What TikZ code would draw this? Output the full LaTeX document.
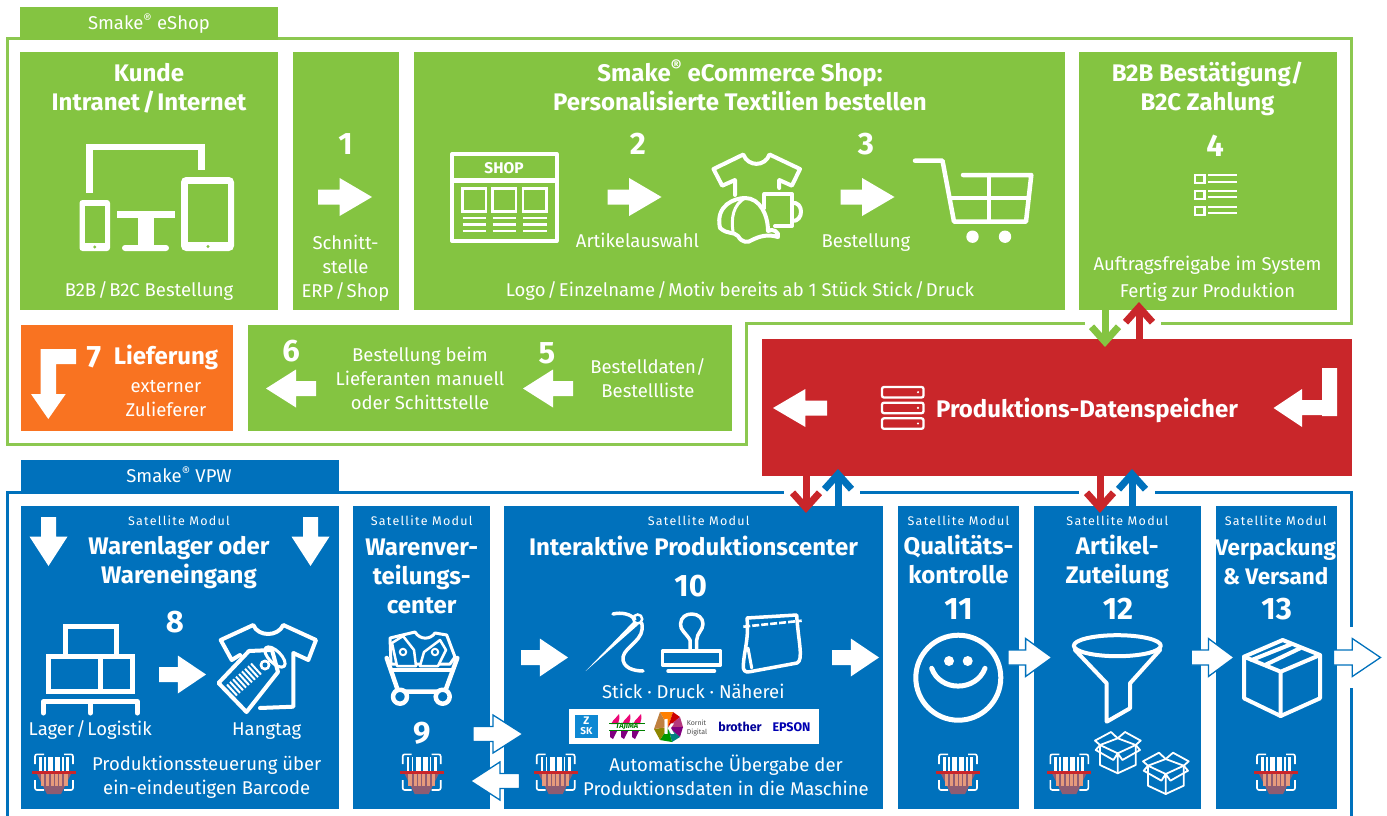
\documentclass[tikz,border=0pt]{standalone}
\usepackage{fontspec}
\setmainfont{Fira Sans}
\newfontfamily\spacedfont[LetterSpace=10]{Fira Sans}
\usetikzlibrary{calc}
\usetikzlibrary{arrows.meta}

\definecolor{shopgreen}{HTML}{84C441}
\definecolor{framegreen}{HTML}{8CC850}
\definecolor{vpwblue}{HTML}{0071BC}
\definecolor{datared}{HTML}{C9262A}
\definecolor{liefer}{HTML}{F97321}
\definecolor{salmon}{HTML}{E69A7C}
\definecolor{mauve}{HTML}{8E5C72}

\newcommand{\slsh}{\kern.1em/\kern.1em}

\tikzset{
  x=1pt, y=-1pt,
  lbl/.style={text=white, inner sep=0pt, anchor=north, align=center, execute at begin node=\strut},
  txt/.style={lbl, yshift=10.3pt, font=\fontsize{18.5}{24}\selectfont},
  head/.style={lbl, yshift=11.5pt, font=\fontsize{24}{29}\selectfont\bfseries},
  num/.style={lbl, yshift=10.7pt, font=\fontsize{31}{31}\selectfont\bfseries},
  sat/.style={lbl, yshift=5.5pt, font=\fontsize{12.5}{14}\selectfont\spacedfont},
  whitearrow/.style={fill=white},
  rimarrow/.style={fill=white, draw=vpwblue, line width=1.3pt},
  ico/.style={draw=white, line width=#1, line join=round, line cap=round},
  ico/.default=4,
  thinarrow/.style={line width=7pt, -{Straight Barb[length=15pt,width=27pt]}},
  pics/blockarrow/.style={code={
    \path[pic actions] ({-#1/2},-7.5) -- ({-.1*#1},-7.5) -- ({-.1*#1},-19) -- ({#1/2},0)
      -- ({-.1*#1},19) -- ({-.1*#1},7.5) -- ({-#1/2},7.5) -- cycle;
  }},
  pics/blockarrow/.default=54,
  pics/scanner/.style={code={
    \draw[white,line width=1.6pt,rounded corners=2pt] (-19,-8) -- (-19,-17.7) -- (-10,-17.7);
    \draw[white,line width=1.6pt,rounded corners=2pt] (19,-8) -- (19,-17.7) -- (10,-17.7);
    \draw[white,line width=1.6pt,rounded corners=2pt] (-19,8) -- (-19,18) -- (-10,18);
    \draw[white,line width=1.6pt,rounded corners=2pt] (19,8) -- (19,18) -- (10,18);
    \foreach \a/\b in {-15/-12.5,-10/-8.5,-6/-1,1/6,8/9.5,12/15}
      \fill[white] (\a,-15) rectangle (\b,-1);
    \fill[mauve] (-18,0) -- (18,0) -- (7,22) -- (-7,22) -- cycle;
    \foreach \a/\b in {-13.5/-10,-8/-5,-3.5/-0.5,0.5/3.5,5/8,10/13.5}
      \fill[salmon] (\a,1) rectangle (\b,14);
    \draw[datared,line width=2.5pt] (-22,.7) -- (22,.7);
  }},
  pics/openbox/.style={code={
    \draw[ico=1.8pt,fill=vpwblue] (-17.7,-8.3) -- (-17.7,11.7) -- (0,20) -- (18,11.7) -- (18,-8.3) -- (0,-15) -- cycle;
    \draw[ico=1.8pt] (-17.7,-8.3) -- (0,0) -- (18,-8.3) (0,0) -- (0,20) (0,-15) -- (-6.7,-21.3) -- (-22.7,-12.7) -- (-17.7,-8.3)
      (0,-15) -- (7.3,-21.3) -- (23,-12.7) -- (18,-8.3) (-17.7,-8.3) -- (-22,-3.3) -- (-4.3,6.7) -- (0,0)
      (18,-8.3) -- (22.3,-3.3) -- (4.7,6.7) -- (0,0);
  }},
}

\begin{document}
\begin{tikzpicture}

\useasboundingbox (0,0) rectangle (1387,816);

% frames
\draw[framegreen,line width=3pt] (1085,323.5) -- (746,323.5) -- (746,444) -- (7,444) -- (7,39) -- (1351,39) -- (1351,323.5) -- (1161,323.5);
\draw[vpwblue,line width=3pt] (7,816) -- (7,492) -- (784,492);
\draw[vpwblue,line width=3pt] (860,492) -- (1079,492);
\draw[vpwblue,line width=3pt] (1155,492) -- (1351,492) -- (1351,627);
\draw[vpwblue,line width=3pt] (1351,688) -- (1351,816);

% green boxes
\fill[shopgreen] (20,7) rectangle (278,40);
\fill[shopgreen] (20,52) rectangle (278,310);
\fill[shopgreen] (293,52) rectangle (399,310);
\fill[shopgreen] (414,52) rectangle (1065,310);
\fill[shopgreen] (1079,52) rectangle (1337,310);
\fill[shopgreen] (248,325) rectangle (732,431);
\fill[liefer] (21,325) rectangle (233,431);

% blue boxes
\fill[vpwblue] (21,460) rectangle (339,492);
\fill[vpwblue] (21,506) rectangle (339,809);
\fill[vpwblue] (353,506) rectangle (490,809);
\fill[vpwblue] (504,506) rectangle (883,809);
\fill[vpwblue] (898,506) rectangle (1019,809);
\fill[vpwblue] (1034,506) rectangle (1201,809);
\fill[vpwblue] (1216,506) rectangle (1337,809);

% data store
\fill[datared] (762,339) rectangle (1352,476);

\coordinate (greenA) at (1105,310);
\coordinate (greenB) at (1105,347);
\coordinate (redA) at (1139,339);
\coordinate (redB) at (1139,302);
\coordinate (redC) at (806,476);
\coordinate (redD) at (806,513);
\coordinate (blueA) at (838,506);
\coordinate (blueB) at (838,469);
\coordinate (redE) at (1100,476);
\coordinate (redF) at (1100,513);
\coordinate (blueC) at (1132,506);
\coordinate (blueD) at (1132,469);

\draw[thinarrow,shopgreen] (greenA) -- (greenB);
\draw[thinarrow,datared] (redA) -- (redB);
\draw[thinarrow,vpwblue] (blueA) -- (blueB);
\draw[thinarrow,datared] (redC) -- (redD);
\draw[thinarrow,vpwblue] (blueC) -- (blueD);
\draw[thinarrow,datared] (redE) -- (redF);

% labels eshop
\node[txt] (tabshop) at (149,23) {Smake\textsuperscript{®} eShop};
\node[head] (kunde) at (149,75) {Kunde\\Intranet\slsh Internet};
\node[txt] (bestell) at (149,290) {B2B\slsh B2C Bestellung};
\node[num] (n1) at (345.5,143) {1};
\node[txt] (erp) at (345.5,245) {Schnitt-\\stelle\\ERP\slsh Shop};
\node[head] (ecom) at (740,71) {Smake\textsuperscript{®} eCommerce Shop:\\Personalisierte Textilien bestellen};
\node[num] (n2) at (638,143) {2};
\node[num] (n3) at (866,143) {3};
\node[txt] (auswahl) at (637.5,241) {Artikelauswahl};
\node[txt] (bestellung) at (866,241) {Bestellung};
\node[txt] (logo) at (740,290) {Logo\slsh Einzelname\slsh Motiv bereits ab 1 Stück Stick\slsh Druck};
\node[head] (b2b) at (1207.5,73) {B2B Bestätigung/\\B2C Zahlung};
\node[num] (n4) at (1215,145) {4};
\node[lbl,yshift=12pt,font=\fontsize{18.5}{27}\selectfont] (freigabe) at (1207.5,267.5) {Auftragsfreigabe im System\\Fertig zur Produktion};

\node[num] (n7) at (94,356) {7};
\node[head] (liefer) at (166,355) {Lieferung};
\node[txt] (extern) at (166,390) {externer\\Zulieferer};
\node[num] (n6) at (291,350) {6};
\node[txt] (manuell) at (420,357) {Bestellung beim\\Lieferanten manuell\\oder Schittstelle};
\node[num] (n5) at (547,352) {5};
\node[txt] (daten) at (648,369) {Bestelldaten/\\Bestellliste};

\node[head] (speicher) at (1087,408) {Produktions-Datenspeicher};

% arrows
\pic[whitearrow] (arrow1) at (345,197) {blockarrow};
\pic[whitearrow] (arrow2) at (634.5,197) {blockarrow};
\pic[whitearrow] (arrow3) at (867.5,197) {blockarrow};
\pic[whitearrow,rotate=180] (arrow5) at (548,388.5) {blockarrow=50};
\pic[whitearrow,rotate=180] (arrow6) at (291,388.5) {blockarrow=50};
\fill[white] (76,349) -- (40.7,349) -- (40.7,394) -- (31,394) -- (48.3,419) -- (65.7,394) -- (56,394) -- (56,364) -- (76,364) -- cycle;
\pic[whitearrow,rotate=180] (arrowout) at (800,408) {blockarrow};
\fill[white] (1322,368) -- (1337,368) -- (1337,416) -- (1322,416) -- (1322,415) -- (1302,415) -- (1302,427) -- (1273.5,408) -- (1302,389) -- (1302,400) -- (1322,400) -- cycle;
\pic[whitearrow,rotate=-90] (arrowdownA) at (48.5,541.5) {blockarrow=49};
\pic[whitearrow,rotate=-90] (arrowdownB) at (310.5,541.5) {blockarrow=49};
\pic[whitearrow] (arrow8) at (182.5,674.5) {blockarrow=47};
\pic[whitearrow] (arrow10a) at (544.5,657.5) {blockarrow=47};
\pic[whitearrow] (arrow10b) at (855.5,657.5) {blockarrow=47};
\pic[rimarrow] (arrow9a) at (498,734) {blockarrow=50};
\pic[rimarrow,rotate=180] (arrow9b) at (495,781) {blockarrow=49};
\pic[rimarrow] (arrow11) at (1030,657.5) {blockarrow=44};
\pic[rimarrow] (arrow12) at (1212.7,657.5) {blockarrow=43};
\pic[rimarrow] (arrow13) at (1357,657.5) {blockarrow=47};

% devices
\draw[white,line width=6.5pt] (89.5,193) -- (89.5,147) -- (201.7,147) -- (201.7,170);
\fill[white,rounded corners=3pt] (79.5,200) rectangle (110,251);
\fill[shopgreen] (85,206) rectangle (105,243);
\fill[shopgreen] (94.7,247) circle (1.6);
\fill[white] (117,211) rectangle (175,218);
\fill[white] (138,218) rectangle (154,246);
\fill[white,rounded corners=3pt] (122,245) rectangle (169,251);
\fill[white,rounded corners=5pt] (181,177) rectangle (234,251);
\fill[shopgreen] (188,184) rectangle (228,242);
\fill[shopgreen] (208,246.5) circle (1.6);

% shop page
\draw[white,line width=4pt,line join=round] (452,154) rectangle (556.5,241);
\fill[white] (452,177.5) rectangle (556.5,183);
\node[text=white,inner sep=0pt,font=\fontsize{15.5}{15.5}\selectfont\bfseries] (shopword) at (504,168) {SHOP};
\foreach \x in {462.5,492.5,523} {
  \draw[white,line width=2.5pt] (\x,188.5) rectangle ++(23.5,23);
  \draw[white,line width=2.6pt] (\x,218) -- ++(23.5,0);
  \draw[white,line width=2.6pt] (\x,224.5) -- ++(23.5,0);
  \draw[white,line width=2.6pt] (\x,231) -- ++(23.5,0);
}

% shirt cap mug
\draw[ico] (735,195) -- (735,180) -- (722.2,185.7) -- (713.5,169) -- (743.3,154.5) .. controls (748,167) and (765,167) .. (769.5,154.5) -- (800,169) -- (791.9,185.7) -- (779.2,180) -- (779.2,188);
\draw[ico] (764.4,208) -- (764.4,194) -- (792,194) -- (792,226) -- (775,226);
\draw[ico] (792,203) .. controls (804,201) and (804,222) .. (792,221);
\draw[ico,fill=shopgreen] (720,228) .. controls (715,205) and (735,198) .. (745,198) .. controls (760,198) and (768,215) .. (768,231) .. controls (772,228) and (780,232) .. (778,237) .. controls (768,234) and (760,236) .. (752,240) .. controls (748,243) and (742,243) .. (738,236) .. controls (733,231) and (728,235) .. (720,228) -- cycle;
\draw[ico=3pt] (745,198) .. controls (733,205) and (731,218) .. (733,232);

% cart
\draw[ico=4.5pt] (915,160.7) -- (942.5,160.7) -- (954,221.7) -- (1026,221.7) -- (1031.3,175) -- (963,175);
\draw[ico=4.5pt] (950,198) -- (1028.5,198) (989,175) -- (989,221.7);
\fill[white] (972.5,236.7) circle (6.2);
\fill[white] (1005,236.7) circle (6.2);

% checklist
\draw[white,line width=2.5pt] (1195.2,175) rectangle (1204.5,183);
\draw[white,line width=2.5pt] (1195.2,191) rectangle (1204.5,199);
\draw[white,line width=2.5pt] (1195.2,207) rectangle (1204.5,215);
\foreach \y in {175.3,181.7,191,197.3,206.7,213.3}
  \draw[white,line width=1.8pt] (1208,\y) -- (1237,\y);

% server
\foreach \y in {387,402.7,418.3} {
  \draw[white,line width=2.3pt,rounded corners=2pt] (882,\y) rectangle (923.5,\y+10.5);
  \fill[white] (918,\y+5.2) circle (1.2);
}

% labels vpw
\node[txt] (tabvpw) at (179,476) {Smake\textsuperscript{®} VPW};
\node[sat] (sat8) at (179,520.5) {Satellite Modul};
\node[head] (lager) at (179,548) {Warenlager oder\\Wareneingang};
\node[num] (n8) at (175,621) {8};
\node[txt] (logistik) at (90.3,729) {Lager\slsh Logistik};
\node[txt] (hangtag) at (266.7,729) {Hangtag};
\node[txt] (steuerung) at (206.7,766) {Produktionssteuerung über\\ein-eindeutigen Barcode};

\node[sat] (sat9) at (421.7,520.5) {Satellite Modul};
\node[head] (verteil) at (421.7,550) {Warenver-\\teilungs-\\center};
\node[num] (n9) at (421.7,732) {9};

\node[sat] (sat10) at (698.7,520.5) {Satellite Modul};
\node[head] (center) at (693.5,546) {Interaktive Produktionscenter};
\node[num] (n10) at (690.7,585) {10};
\node[txt] (stick) at (693.3,691.7) {Stick · Druck · Näherei};
\node[txt] (uebergabe) at (726,765) {Automatische Übergabe der\\Produktionsdaten in die Maschine};

\node[sat] (sat11) at (958.5,520.5) {Satellite Modul};
\node[head] (quali) at (958.5,546) {Qualitäts-\\kontrolle};
\node[num] (n11) at (958.5,608) {11};

\node[sat] (sat12) at (1117.3,520.5) {Satellite Modul};
\node[head] (zuteil) at (1117.3,546) {Artikel-\\Zuteilung};
\node[num] (n12) at (1118,608) {12};

\node[sat] (sat13) at (1275.7,520.5) {Satellite Modul};
\node[head,font=\fontsize{22.5}{29}\selectfont\bfseries] (versand) at (1275.7,550) {Verpackung\\\& Versand};
\node[num] (n13) at (1276.7,608) {13};

% pallets
\draw[ico=5pt,line cap=butt,line join=miter] (65.2,656.7) -- (65.2,626.5) -- (116.2,626.5) -- (116.2,656.7);
\draw[ico=5pt,line cap=butt,line join=miter] (48.2,656.7) rectangle (132.5,691.5);
\draw[ico=5pt,line cap=butt] (100,656.7) -- (100,691.5);
\draw[ico=5pt] (43.3,713) -- (43.3,701.7) -- (137.3,701.7) -- (137.3,713);
\draw[ico=5pt] (90.3,701.7) -- (90.3,713);

% shirt with tag
\draw[ico=4pt] (240,655) -- (231.7,660) -- (220.7,640) -- (253.3,625) .. controls (258,637) and (278,637) .. (283.3,625) -- (316,640) -- (308.3,660) -- (293.3,653) -- (293.3,706.7) -- (260,708);
\draw[ico=4pt,fill=vpwblue] (218.5,683) -- (249,651) -- (272,650) -- (278,672) -- (246.5,712) -- cycle;
\fill[white] (265,665) circle (5.5);
\fill[vpwblue] (265,665) circle (2.5);
\draw[ico=3pt,rotate around={-45:(275,657)}] (275,657) ellipse (13 and 6);
\foreach \t in {0,.125,...,1.01}
  \draw[white,line width=2pt] ($(232,690)+\t*(24,-21)+(-5,-5.5)$) -- ($(232,690)+\t*(24,-21)+(5,5.5)$);

% basket
\draw[ico=3pt,fill=vpwblue] (391,664) -- (390,638) -- (415,632) .. controls (420,640) and (430,640) .. (435,633) -- (446.7,635) -- (455,657) -- (450,664) -- cycle;
\draw[ico=2.5pt,fill=vpwblue] (397,666) -- (392,643) -- (403,636) -- (414,650) -- (416,666) -- cycle;
\draw[ico=2.5pt,fill=vpwblue] (420,666) -- (424,652) -- (440,640) -- (446,650) -- (438,666) -- cycle;
\draw[white,line width=2pt] (403,652) circle (3.2);
\draw[white,line width=2pt] (435,652) circle (3.2);
\draw[ico=4.5pt] (386.7,658) -- (398.3,691.7) -- (445,691.7) -- (457.3,658);
\draw[ico=4.5pt] (392.7,670) -- (450.7,670);
\draw[ico=4.5pt,fill=vpwblue] (400,696.7) circle (7);
\draw[ico=4.5pt,fill=vpwblue] (442.7,696.7) circle (7);

% needle
\fill[white] (585.7,671) -- (634,621) -- (638,625) -- cycle;
\draw[white,line width=2.5pt] (637.7,619) circle (4.5);
\draw[ico=3.5pt] (613,614) .. controls (622,612) and (630,614) .. (635,619);
\draw[ico=3.5pt] (641.7,623) .. controls (646,640) and (625,646) .. (623,657) .. controls (622,668) and (634,671) .. (643,671);

% stamp
\draw[ico=3.5pt] (662.5,651) rectangle (720.5,665);
\draw[ico=3.5pt] (668,671) -- (714.5,671);
\draw[ico=3.5pt] (690,650.7) -- (690,640) .. controls (686,633) and (680,630) .. (680.5,624) .. controls (681,617) and (686,614) .. (691.7,614) .. controls (698,614) and (703,618) .. (703,624) .. controls (703,630) and (697,633) .. (696.7,640) -- (696.7,650.7);

% bag
\draw[ico=3.5pt] (747,618) -- (796.7,615) .. controls (798,640) and (804,660) .. (797,663) -- (750,671.7) .. controls (745,673) and (743,670) .. (743.3,666) .. controls (744,650) and (749,640) .. (747,618);
\draw[ico=3pt] (748,648) -- (751.7,668);
\draw[white,line width=2.6pt,dash pattern=on 7pt off 2pt] (743.3,626.7) -- (801.7,620.7);

% logos
\fill[white] (569,709) rectangle (819,744);
\fill[cyan!70!blue] (575,715) rectangle (597.7,737.7);
\node[text=white,inner sep=0pt,font=\fontsize{11}{11}\selectfont\bfseries] (zskz) at (586.3,721) {Z};
\node[text=white,inner sep=0pt,font=\fontsize{10}{10}\selectfont\bfseries] (zsksk) at (586.3,731.5) {SK};
\foreach \x in {616,627,638} {
  \fill[magenta!80!red] (\x-5,724) .. controls (\x-2,718) and (\x+1,718) .. (\x+3,714) .. controls (\x+4,718) and (\x+3,720) .. (\x+2,724) -- cycle;
  \fill[violet] (\x-6,731) -- (\x+1,731) -- (\x-3,739) -- (\x-6,737) -- cycle;
}
\draw[green!50!black,line width=.8pt] (609,723.5) -- (645,723.5) (609,730.5) -- (645,730.5);
\node[text=green!50!black,inner sep=0pt,font=\fontsize{7.5}{7.5}\selectfont\bfseries\itshape] (tajima) at (627,727) {TAJIMA};
\fill[orange] (668,727) -- (660,712) -- (673,712) -- cycle;
\fill[red!80!black] (668,727) -- (673,712) -- (680,717) -- cycle;
\fill[magenta!70!black] (668,727) -- (680,717) -- (683,727) -- cycle;
\fill[violet] (668,727) -- (683,727) -- (680,737) -- cycle;
\fill[teal] (668,727) -- (680,737) -- (672,742) -- cycle;
\fill[green!60!black] (668,727) -- (672,742) -- (660,740) -- cycle;
\fill[olive] (668,727) -- (660,740) -- (654,729) -- cycle;
\fill[brown] (668,727) -- (654,729) -- (660,712) -- cycle;
\node[text=white,inner sep=0pt,font=\fontsize{20}{20}\selectfont\bfseries] (kornitk) at (669,727) {k};
\node[text=black!70,inner sep=0pt,align=left,font=\fontsize{7}{9.5}\selectfont] (kornit) at (697,728) {Kornit\\Digital};
\node[text=blue!60!black,inner sep=0pt,font=\fontsize{12.5}{12.5}\selectfont\bfseries] (brother) at (740,727) {brother};
\node[text=blue!70!black,inner sep=0pt,font=\fontsize{12.5}{12.5}\selectfont\bfseries] (epson) at (791.5,727) {EPSON};

% smiley
\draw[ico=5pt] (958.3,677.7) circle (42.5);
\fill[white] (949,661) circle (5);
\fill[white] (967.7,661) circle (5);
\draw[ico=5pt] (931.7,668.3) .. controls (940,692) and (976,692) .. (985,668.3);

% funnel
\draw[ico=4pt] (1117.3,645.7) ellipse (43.5 and 10.5);
\draw[ico=4pt] (1075,650) -- (1106.7,683.3) -- (1106.7,721.7) -- (1130,708.3) -- (1130,683.3) -- (1160,650);

% boxes
\pic (boxA) at (1117.7,753.3) {openbox};
\pic (boxB) at (1165.7,774) {openbox};

% parcel
\draw[ico=4pt] (1282.7,640) -- (1320,655) -- (1320,698.3) -- (1280.7,716) -- (1244,698.3) -- (1244,656.7) -- cycle;
\draw[ico=4pt] (1244,656.7) -- (1280.7,671.7) -- (1320,655) (1280.7,671.7) -- (1280.7,716);
\draw[ico=4pt] (1291.7,644) -- (1251.7,660) (1300,648.3) -- (1265,665);

% scanners
\pic (scanA) at (54,772) {scanner};
\pic (scanB) at (421.7,772) {scanner};
\pic (scanC) at (555.7,772) {scanner};
\pic (scanD) at (958,772) {scanner};
\pic (scanE) at (1069.3,772) {scanner};
\pic (scanF) at (1276,772) {scanner};

\end{tikzpicture}
\end{document}
